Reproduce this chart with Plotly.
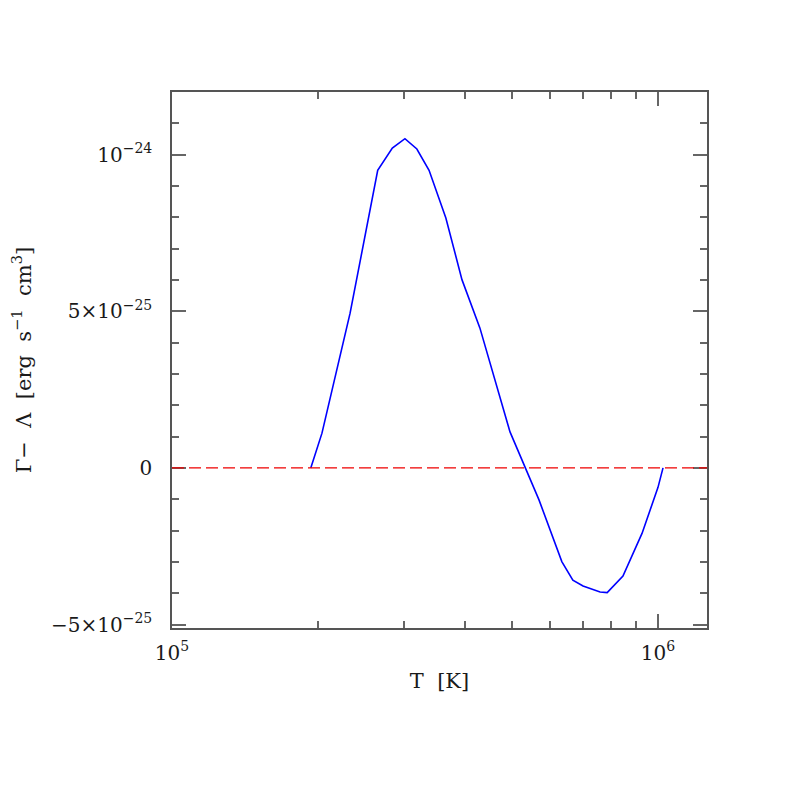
import plotly.graph_objects as go

# temperature [K] and net heating rate Gamma - Lambda [erg s^-1 cm^3]
temp = [1.93e5, 2.035e5, 2.325e5, 2.65e5, 2.84e5, 3.015e5, 3.19e5, 3.38e5,
        3.66e5, 3.95e5, 4.30e5, 4.96e5, 5.69e5, 6.34e5, 6.68e5, 7.01e5,
        7.60e5, 7.86e5, 8.47e5, 9.27e5, 1.0e6, 1.024e6]
net_rate = [0.0, 1.11e-25, 4.94e-25, 9.50e-25, 1.021e-24, 1.051e-24, 1.018e-24, 9.50e-25,
            7.98e-25, 6.01e-25, 4.47e-25, 1.15e-25, -1.02e-25, -2.99e-25, -3.58e-25, -3.77e-25,
            -3.96e-25, -3.98e-25, -3.45e-25, -2.09e-25, -6.2e-26, 0.0]

x_major = [1e5, 1e6]
x_major_text = ["10<sup>5</sup>", "10<sup>6</sup>"]
x_minor = [2e5, 3e5, 4e5, 5e5, 6e5, 7e5, 8e5, 9e5]
y_major = [-5e-25, 0, 5e-25, 1e-24]
y_major_text = ["−5×10<sup>−25</sup>", "0", "5×10<sup>−25</sup>", "10<sup>−24</sup>"]
y_minor = [i * 1e-25 for i in range(-5, 13)]

font = "DejaVu Serif"
ink = "#1a1a1a"

fig = go.Figure()
fig.add_trace(go.Scatter(x=temp, y=net_rate, mode="lines",
                         line=dict(color="#0000ff", width=1.6), showlegend=False))
fig.add_shape(type="line", xref="paper", x0=0, x1=1, yref="y", y0=0, y1=0,
              line=dict(color="#ee0000", width=1.4, dash="12px,5px"))

axis_common = dict(showgrid=False, zeroline=False, showline=True, linecolor="#555555",
                   linewidth=1.5, mirror="ticks", ticks="inside", ticklen=14,
                   tickcolor="#666666", tickwidth=1.5, automargin=False,
                   tickfont=dict(family=font, size=20, color=ink))

fig.update_xaxes(type="log", range=[5, 6.1008], tickvals=x_major, ticktext=x_major_text,
                 ticklabelstandoff=6,
                 minor=dict(tickvals=x_minor, ticks="inside", ticklen=7,
                            tickcolor="#666666", tickwidth=1.5),
                 title=dict(text="T&nbsp;&nbsp;[K]", font=dict(family=font, size=21, color=ink),
                            standoff=10),
                 **axis_common)
fig.update_yaxes(range=[-5.11e-25, 1.2e-24], tickvals=y_major, ticktext=y_major_text,
                 ticklabelstandoff=14,
                 minor=dict(tickvals=y_minor, ticks="inside", ticklen=7,
                            tickcolor="#666666", tickwidth=1.5),
                 title=dict(text="Γ−&nbsp;&nbsp;Λ&nbsp;&nbsp;[erg&nbsp;&nbsp;s<sup>−1</sup>&nbsp;&nbsp;cm<sup>3</sup>]",
                            font=dict(family=font, size=21, color=ink), standoff=26),
                 **axis_common)

fig.update_layout(width=797, height=797, plot_bgcolor="white", paper_bgcolor="white",
                  margin=dict(l=164, r=98, t=84, b=177))
fig.write_html("out.html")
